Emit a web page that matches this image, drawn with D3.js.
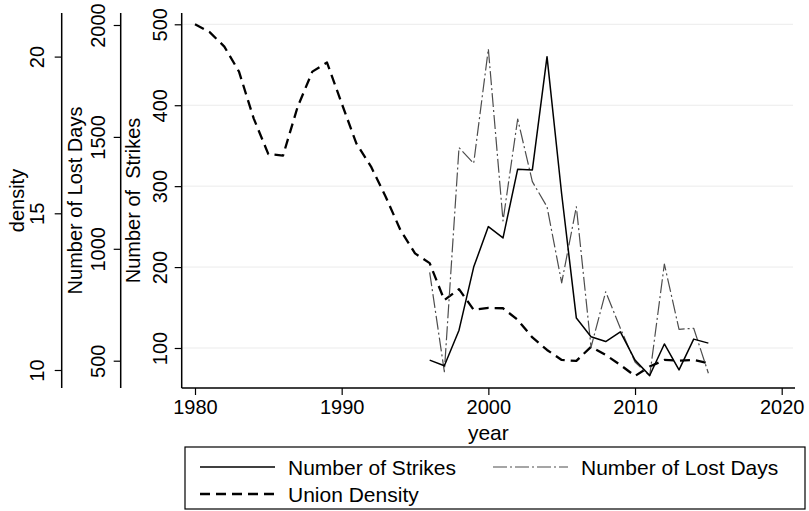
<!DOCTYPE html>
<html>
<head>
<meta charset="utf-8">
<script src="https://cdn.jsdelivr.net/npm/d3@7"></script>
<style>
  html, body { margin: 0; padding: 0; background: #fff; }
  svg { display: block; }
  text { font-family: Arial, "Liberation Sans", sans-serif; fill: #000; }
</style>
</head>
<body>
<svg id="chart" width="809" height="511"></svg>
<script>
// ---- data ----
const strikeYears = [1996, 1997, 1998, 1999, 2000, 2001, 2002, 2003, 2004, 2005,
                     2006, 2007, 2008, 2009, 2010, 2011, 2012, 2013, 2014, 2015];
const strikes     = [85, 78, 122, 200, 250, 236, 321, 320, 460, 290,
                     137, 114, 108, 120, 85, 66, 105, 73, 111, 106];

const lostYears = [1996, 1997, 1998, 1999, 2000, 2001, 2002, 2003, 2004, 2005,
                   2006, 2007, 2008, 2009, 2010, 2011, 2012, 2013, 2014, 2015];
const lostDays  = [895, 451, 1452, 1382, 1893, 1125, 1580, 1300, 1188, 848,
                   1188, 560, 808, 645, 494, 432, 932, 640, 645, 444];

const densityYears = [1980, 1981, 1982, 1983, 1984, 1985, 1986, 1987, 1988, 1989,
                      1990, 1991, 1992, 1993, 1994, 1995, 1996, 1997, 1998, 1999,
                      2000, 2001, 2002, 2003, 2004, 2005, 2006, 2007, 2008, 2009,
                      2010, 2011, 2012, 2013, 2014, 2015];
const density = [21.03, 20.78, 20.32, 19.52, 18.03, 16.89, 16.84, 18.40, 19.52, 19.81,
                 18.51, 17.23, 16.49, 15.53, 14.47, 13.72, 13.41, 12.23, 12.58, 11.92,
                 11.98, 11.97, 11.60, 11.04, 10.64, 10.32, 10.29, 10.74, 10.48, 10.16,
                 9.81, 10.11, 10.32, 10.30, 10.32, 10.22];

const yearTicks    = [1980, 1990, 2000, 2010, 2020];
const strikeTicks  = [100, 200, 300, 400, 500];
const lostTicks    = [500, 1000, 1500, 2000];
const densityTicks = [10, 15, 20];

const seriesNames = ["Number of Strikes", "Number of Lost Days", "Union Density"];

// ---- layout ----
const svg = d3.select("#chart");
const plotTop = 13, plotBottom = 388, plotLeft = 181.7, plotRight = 795;
const FS = 20, LFS = 21;

const x = d3.scaleLinear().domain([1980, 2020]).range([195, 781.7]);
const yS = d3.scaleLinear().domain([100, 500]).range([348, 24.3]);
const yL = d3.scaleLinear().domain([500, 2000]).range([360.7, 25]);
const yD = d3.scaleLinear().domain([10, 20]).range([370, 56.6]);

// horizontal grid on the strikes scale
svg.append("g").selectAll("line").data(strikeTicks).join("line")
  .attr("x1", plotLeft).attr("x2", 793)
  .attr("y1", d => yS(d)).attr("y2", d => yS(d))
  .attr("stroke", "#ebebeb").attr("stroke-width", 1);

// y axes: each a vertical line with outward ticks and rotated labels
function yAxis(scale, ticks, lineX, labelX, title, titleX) {
  const g = svg.append("g");
  const ax = d3.axisLeft(scale).tickValues(ticks).tickSize(7).tickPadding(0)
    .tickFormat(d3.format("d"));
  g.attr("transform", `translate(${lineX},0)`).call(ax);
  g.select(".domain").remove();
  g.selectAll(".tick line").attr("stroke", "#000").attr("stroke-width", 1.2);
  g.selectAll(".tick text")
    .attr("x", 0).attr("dy", 0)
    .attr("transform", d => `translate(${labelX - lineX},0) rotate(-90)`)
    .attr("text-anchor", "middle").attr("dominant-baseline", "central")
    .style("font-size", FS + "px").style("font-family", "Arial, 'Liberation Sans', sans-serif")
    .attr("fill", "#000");
  g.append("line").attr("x1", 0).attr("x2", 0)
    .attr("y1", plotTop).attr("y2", plotBottom)
    .attr("stroke", "#000").attr("stroke-width", 1.5);
  svg.append("text")
    .attr("transform", `translate(${titleX},${(plotTop + plotBottom) / 2}) rotate(-90)`)
    .attr("text-anchor", "middle").attr("dominant-baseline", "central")
    .attr("xml:space", "preserve")
    .style("white-space", "pre")
    .style("font-size", FS + "px")
    .text(title);
}
yAxis(yD, densityTicks, 61.7, 37, "density", 17);
yAxis(yL, lostTicks, 120.7, 98, "Number of Lost Days", 75);
yAxis(yS, strikeTicks, 181.7, 160, "Number of  Strikes", 133);

// x axis
const gx = svg.append("g").attr("transform", `translate(0,${plotBottom})`)
  .call(d3.axisBottom(x).tickValues(yearTicks).tickSize(7).tickPadding(5).tickFormat(d3.format("d")));
gx.select(".domain").remove();
gx.selectAll(".tick line").attr("stroke", "#000").attr("stroke-width", 1.2);
gx.selectAll(".tick text").style("font-size", FS + "px")
  .style("font-family", "Arial, 'Liberation Sans', sans-serif").attr("fill", "#000");
gx.append("line").attr("x1", plotLeft).attr("x2", plotRight).attr("y1", 0).attr("y2", 0)
  .attr("stroke", "#000").attr("stroke-width", 1.5);
svg.append("text").attr("x", x(2000)).attr("y", 440)
  .attr("text-anchor", "middle").style("font-size", LFS + "px").text("year");

// series
const styles = [
  { stroke: "#000", width: 1.5, dash: null },
  { stroke: "#4d4d4d", width: 1.2, dash: "14,3,2,3" },
  { stroke: "#000", width: 2.3, dash: "10,6" }
];

const lineS = d3.line().x((d, i) => x(strikeYears[i])).y(d => yS(d));
const lineL = d3.line().x((d, i) => x(lostYears[i])).y(d => yL(d));
const lineD = d3.line().x((d, i) => x(densityYears[i])).y(d => yD(d));

function drawSeries(path, data, st) {
  svg.append("path").datum(data).attr("d", path)
    .attr("fill", "none").attr("stroke", st.stroke).attr("stroke-width", st.width)
    .attr("stroke-dasharray", st.dash).attr("stroke-linejoin", "round");
}
drawSeries(lineD, density, styles[2]);
drawSeries(lineL, lostDays, styles[1]);
drawSeries(lineS, strikes, styles[0]);

// legend
const lg = svg.append("g");
lg.append("rect").attr("x", 185).attr("y", 447).attr("width", 620).attr("height", 62)
  .attr("fill", "#fff").attr("stroke", "#000").attr("stroke-width", 1.2);
const legendPos = [
  { x: 200, y: 467 },
  { x: 493, y: 467 },
  { x: 200, y: 494 }
];
seriesNames.forEach((name, i) => {
  const p = legendPos[i], st = styles[i];
  lg.append("line").attr("x1", p.x).attr("x2", p.x + 75).attr("y1", p.y).attr("y2", p.y)
    .attr("stroke", st.stroke).attr("stroke-width", st.width).attr("stroke-dasharray", st.dash);
  lg.append("text").attr("x", p.x + 88).attr("y", p.y).attr("dominant-baseline", "central")
    .style("font-size", LFS + "px").text(name);
});
</script>
</body>
</html>
